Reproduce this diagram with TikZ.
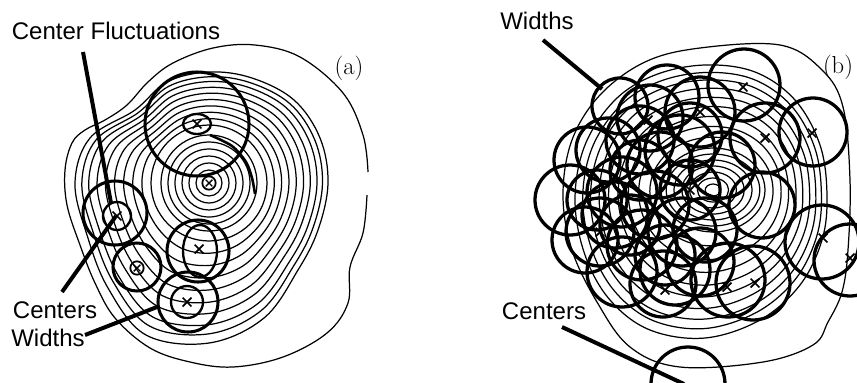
\documentclass[tikz,border=0pt]{standalone}
\usepackage{fontspec}
\newfontfamily\lblfont{Liberation Sans}
\usetikzlibrary{calc,shapes.misc}
\newcommand\ringlerp[3]{%
  \foreach \j in {0,...,15} {\coordinate (rp\j) at ($(#1\j)!#3!(#2\j)$);}
  \draw[contour] plot[smooth cycle, tension=0.6] coordinates {(rp0) (rp1) (rp2) (rp3) (rp4) (rp5) (rp6) (rp7) (rp8) (rp9) (rp10) (rp11) (rp12) (rp13) (rp14) (rp15)};
}
\begin{document}
\begin{tikzpicture}[x=0.03cm,y=-0.03cm,
  contour/.style={line width=1.05pt, line join=round},
  ring/.style={line width=2.6pt},
  thinring/.style={line width=2pt},
  bring/.style={line width=2.8pt},
  pointer/.style={line width=3.4pt},
  lbl/.style={font=\lblfont\fontsize{20.5}{22}\selectfont, inner sep=0pt},
  panel/.style={font=\fontsize{21}{24}\selectfont, inner sep=0pt},
  xmk/.style={cross out, draw, line width=1.5pt, minimum size=0.21cm, inner sep=0pt},
  omk/.style={circle, draw, line width=1.5pt, minimum size=0.4cm, inner sep=0pt},
]
\useasboundingbox (0,0) rectangle (857,382);
\clip (0,0) rectangle (857,382);

% ================= panel (a) =================
\coordinate (aM) at (209,183);
\foreach \j in {0,...,15} {\coordinate (aK\j) at ($(aM)+({\j*22.5}:58)$);}
\coordinate (aO0) at (328,183);
\coordinate (aO1) at (318,230);
\coordinate (aO2) at (298,270);
\coordinate (aO3) at (264,318);
\coordinate (aO4) at (209,343);
\coordinate (aO5) at (146,335);
\coordinate (aO6) at (108,288);
\coordinate (aO7) at (87,235);
\coordinate (aO8) at (75,183);
\coordinate (aO9) at (90,138);
\coordinate (aO10) at (135,110);
\coordinate (aO11) at (167,82);
\coordinate (aO12) at (209,72);
\coordinate (aO13) at (252,78);
\coordinate (aO14) at (294,100);
\coordinate (aO15) at (320,138);
\foreach \r in {13,20,27,34,41,48} {\draw[contour] (aM) circle [radius=\r];}
\foreach \s in {0,0.12,0.24,0.36,0.48,0.6,0.71,0.82,0.91,1} {\ringlerp{aK}{aO}{\s}}
% outermost contour with gap on the right
\draw[contour] plot[smooth, tension=0.6] coordinates {(367,195) (363,233) (350,267) (348,303) (327,333) (283,357) (233,367) (190,362) (150,348) (115,318) (95,283) (80,245) (67,205) (65,170) (72,143) (85,130) (105,120) (127,105) (148,82) (173,63) (213,48) (255,45) (300,57) (343,93) (363,135) (368,172)};

% circles of panel (a)
\draw[ring] (197,124) circle [radius=52];
\draw[thinring] (197,124) ellipse [x radius=14, y radius=10];
\node[xmk] (ax1) at (197,124) {};
\node[omk] (ao1) at (aM) {};
\node[xmk, minimum size=0.16cm, line width=1.2pt] (ax2) at (aM) {};
\draw[ring] (115,213) circle [radius=32];
\draw[thinring] (117,216) circle [radius=14];
\node[xmk] (ax3) at (117,216) {};
\draw[ring] (137,267) circle [radius=24];
\node[omk] (ao2) at (137,268) {};
\node[xmk, minimum size=0.16cm, line width=1.2pt] (ax4) at (137,268) {};
\draw[ring] (198,251) circle [radius=31];
\draw[thinring] (200,251) ellipse [x radius=17, y radius=26];
\node[xmk] (ax5) at (199,249) {};
\draw[ring] (188,302) circle [radius=30];
\draw[thinring] (187,302) circle [radius=16];
\node[xmk] (ax6) at (187,302) {};
\draw[line width=2.2pt] plot[smooth] coordinates {(210,135) (232,146) (246,162) (252,178) (255,194)};

% labels of panel (a)
\node[lbl] (cf) at (116,31) {Center Fluctuations};
\node[lbl] (ca) at (55,310) {Centers};
\node[lbl] (wa) at (48,338) {Widths};
\node[panel] (pa) at (349,68) {(a)};
\coordinate (cfA) at (83,52);
\coordinate (cfB) at (111,203);
\coordinate (caA) at (62,292);
\coordinate (caB) at (116,216);
\coordinate (waA) at (85,335);
\coordinate (waB) at (157,307);
\draw[pointer] (cfA) -- (cfB);
\draw[pointer] (caA) -- (caB);
\draw[pointer] (waA) -- (waB);

% ================= panel (b) =================
\coordinate (bN) at (713,190);
\foreach \j in {0,...,15} {\coordinate (bK\j) at ($(bN)+({\j*22.5}:52 and 42)$);}
\coordinate (bO0) at (827,195);
\coordinate (bO1) at (822,240);
\coordinate (bO2) at (800,285);
\coordinate (bO3) at (760,320);
\coordinate (bO4) at (705,338);
\coordinate (bO5) at (650,330);
\coordinate (bO6) at (610,300);
\coordinate (bO7) at (585,255);
\coordinate (bO8) at (575,200);
\coordinate (bO9) at (585,145);
\coordinate (bO10) at (615,100);
\coordinate (bO11) at (655,75);
\coordinate (bO12) at (705,65);
\coordinate (bO13) at (755,72);
\coordinate (bO14) at (795,100);
\coordinate (bO15) at (820,145);
\foreach \r in {6,12,18,24,30,36} {\draw[contour] (bN) ellipse [x radius=1.3*\r, y radius=\r];}
\foreach \s in {0,0.13,0.26,0.38,0.5,0.61,0.72,0.82,0.91,1} {\ringlerp{bK}{bO}{\s}}
\draw[contour] plot[smooth cycle, tension=0.6] coordinates {(700,48) (780,45) (822,70) (843,107) (850,180) (848,250) (842,292) (828,322) (813,345) (763,362) (680,367) (630,347) (597,302) (572,250) (563,195) (572,140) (600,95) (645,62)};

% circles of panel (b)
\foreach \cx/\cy/\cr in {620/106/28, 667/97/32, 744/85/36, 813/132/34, 765/138/35, 822/242/37, 850/260/36, 753/283/37, 728/280/37, 587/160/33, 570/200/35, 688/384/37, 700/112/35, 640/140/34, 680/150/35, 722/165/33, 622/192/35, 655/205/34, 600/232/34, 642/245/35, 682/232/34, 622/272/35, 663/284/33, 700/262/34, 650/118/33, 762/205/33, 690/190/30, 608/150/32, 585/240/33, 705/230/32, 640/170/30, 665/255/30, 615/215/33, 660/165/33, 690/135/32, 630/225/30, 675/270/35, 597/200/30}
  {\draw[bring] (\cx,\cy) circle [radius=\cr];}
\foreach \cx/\cy [count=\i] in {743/87, 812/133, 765/138, 823/238, 850/258, 727/287, 755/283, 665/290, 648/120, 700/112, 622/192, 600/232, 690/190}
  {\node[xmk] (bx\i) at (\cx,\cy) {};}

% labels of panel (b)
\node[lbl] (wb) at (537,21) {Widths};
\node[lbl] (cb) at (544,311) {Centers};
\node[panel] (pb) at (838,67) {(b)};
\coordinate (wbA) at (543,40);
\coordinate (wbB) at (602,89);
\coordinate (cbA) at (562,327);
\coordinate (cbB) at (684,384);
\draw[pointer] (wbA) -- (wbB);
\draw[pointer] (cbA) -- (cbB);
\end{tikzpicture}
\end{document}
